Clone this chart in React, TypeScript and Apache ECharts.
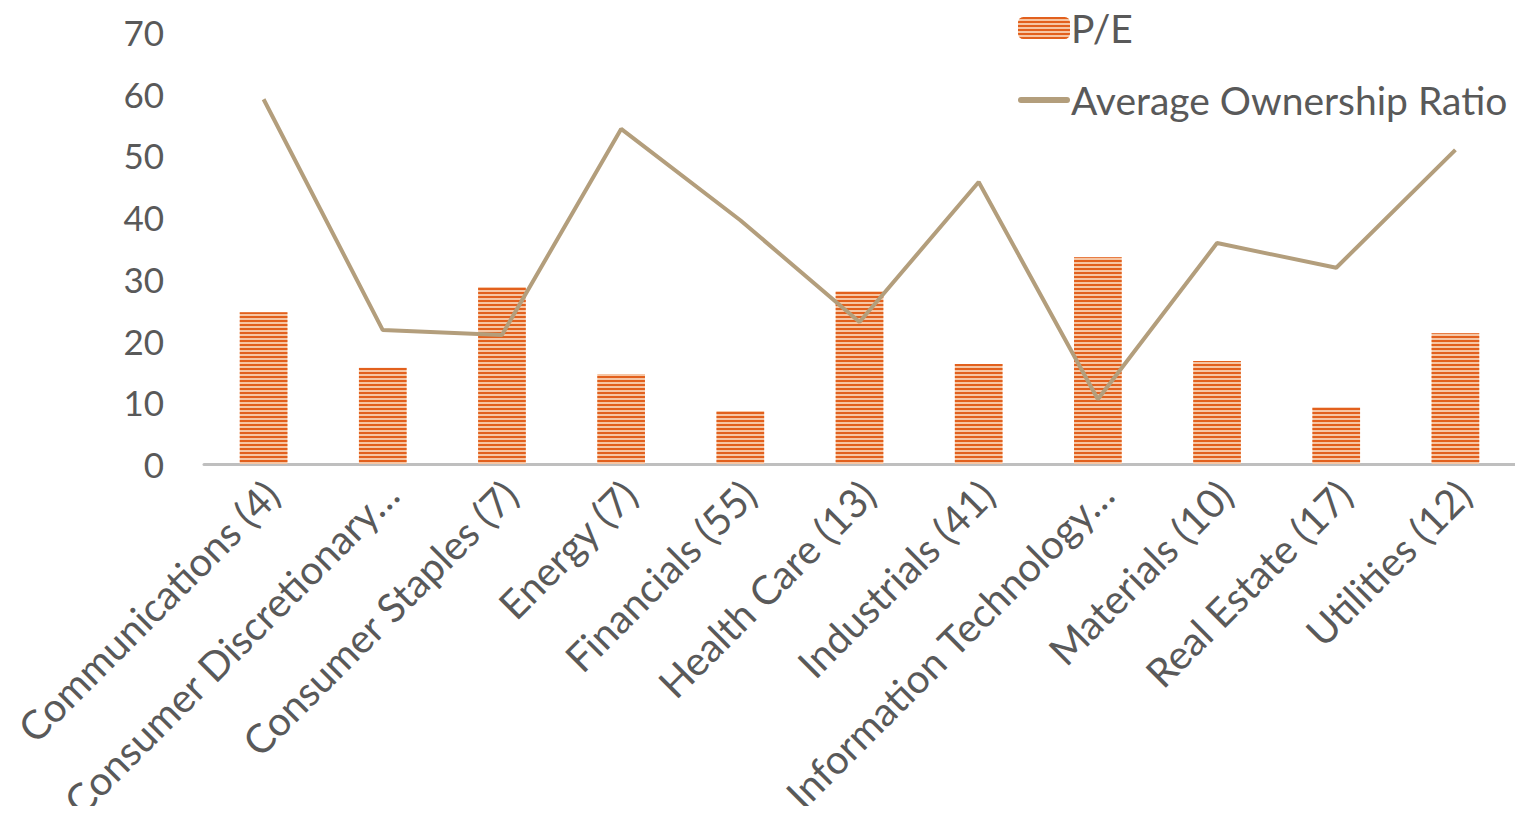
import React, { useEffect, useRef } from "react";
import * as echarts from "echarts";

const categories = [
  "Communications (4)",
  "Consumer Discretionary…",
  "Consumer Staples (7)",
  "Energy (7)",
  "Financials (55)",
  "Health Care (13)",
  "Industrials (41)",
  "Information Technology…",
  "Materials (10)",
  "Real Estate (17)",
  "Utilities (12)",
];
const peValues = [24.6, 15.6, 28.7, 14.6, 8.6, 28.0, 16.2, 33.5, 16.7, 9.2, 21.2];
const ownershipValues = [59.1, 21.7, 20.9, 54.3, 39.5, 23.0, 45.7, 10.5, 35.8, 31.8, 50.9];

const FONT = "Lato";
const LINE_COLOR = "#b39e7c";

export default function App() {
  const ref = useRef<HTMLDivElement>(null);
  useEffect(() => {
    if (!ref.current) return;
    const chart = echarts.init(ref.current, undefined, { renderer: "svg" });
    chart.setOption({
      animation: false,
      backgroundColor: "#ffffff",
      textStyle: { fontFamily: FONT },
      legend: {
        orient: "vertical",
        left: 1010,
        top: 0,
        padding: 0,
        itemWidth: 52,
        itemHeight: 22,
        itemGap: 32,
        textStyle: {
          fontSize: 39,
          lineHeight: 40,
          color: "#595959",
          fontFamily: FONT,
          padding: [0, 0, 0, -4],
        },
        data: [
          { name: "P/E" },
          {
            name: "Average Ownership Ratio",
            icon: "path://M3,0 H49 A3,3 0 0 1 49,6 H3 A3,3 0 0 1 3,0 Z",
          },
        ],
      },
      grid: { left: 196, right: 0, top: 24, bottom: 342, outerBoundsMode: "none" },
      xAxis: {
        type: "category",
        data: categories,
        axisLine: { lineStyle: { color: "#bfbfbf", width: 3 } },
        axisTick: { show: false },
        axisLabel: {
          rotate: 45,
          interval: 0,
          margin: 32,
          padding: [0, -12, 0, 0],
          fontSize: 40,
          color: "#595959",
          fontFamily: FONT,
        },
      },
      yAxis: {
        type: "value",
        min: 0,
        max: 70,
        interval: 10,
        splitLine: { show: false },
        axisLine: { show: false },
        axisTick: { show: false },
        axisLabel: { fontSize: 35, color: "#595959", margin: 40, fontFamily: FONT },
      },
      series: [
        {
          name: "P/E",
          type: "bar",
          data: peValues,
          barWidth: "40%",
          itemStyle: {
            color: "#f6c6a4",
            decal: {
              symbol: "rect",
              symbolSize: 1,
              dashArrayX: [1, 0],
              dashArrayY: [2, 2],
              rotation: 0,
              color: "#e2601d",
            },
          },
        },
        {
          name: "Average Ownership Ratio",
          type: "line",
          data: ownershipValues,
          symbol: "none",
          lineStyle: { color: LINE_COLOR, width: 4 },
          itemStyle: { color: LINE_COLOR },
          z: 3,
        },
      ],
    });
    return () => chart.dispose();
  }, []);
  return <div ref={ref} style={{ width: 1507, height: 798 }} />;
}
